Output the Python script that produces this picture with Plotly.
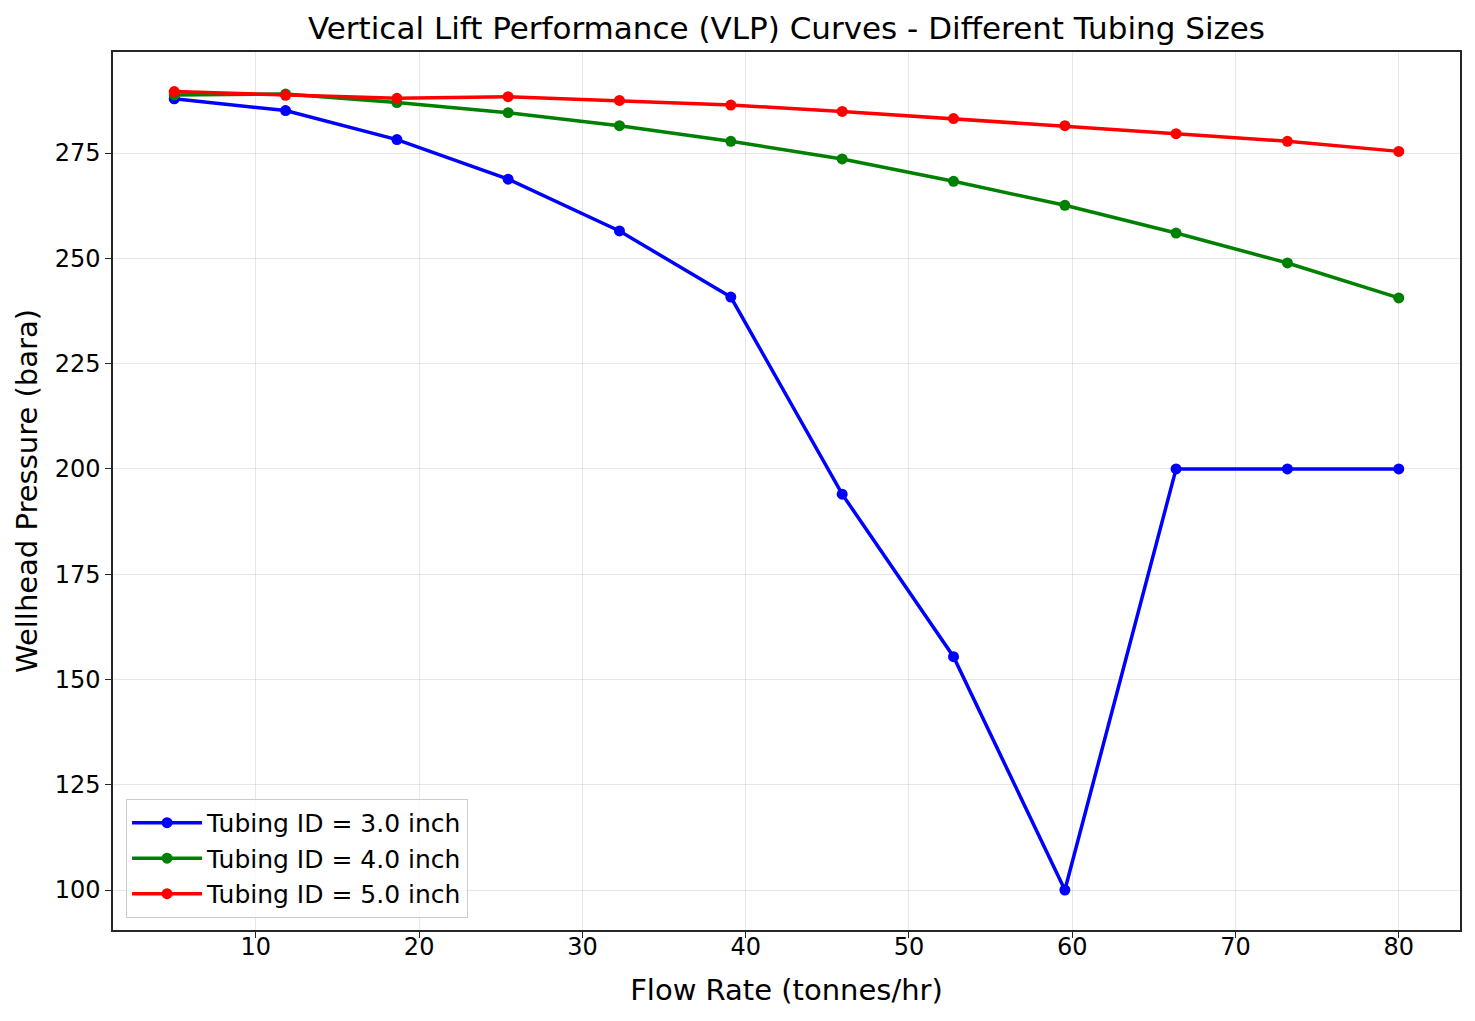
import plotly.graph_objects as go

flow_rate = [5.0, 11.82, 18.64, 25.45, 32.27, 39.09, 45.91, 52.73, 59.55, 66.36, 73.18, 80.0]
p_3in = [287.9, 285.1, 278.2, 268.8, 256.5, 240.8, 194.0, 155.4, 100.0, 200.0, 200.0, 200.0]
p_4in = [288.8, 289.0, 287.0, 284.6, 281.5, 277.8, 273.6, 268.3, 262.6, 256.0, 248.9, 240.6]
p_5in = [289.6, 288.7, 288.0, 288.4, 287.5, 286.4, 284.9, 283.2, 281.5, 279.6, 277.8, 275.4]
series_names = ["Tubing ID = 3.0 inch", "Tubing ID = 4.0 inch", "Tubing ID = 5.0 inch"]
colors = ["#0000ff", "#008000", "#ff0000"]

fig = go.Figure()
for name, ys, c in zip(series_names, [p_3in, p_4in, p_5in], colors):
    fig.add_trace(go.Scatter(x=flow_rate, y=ys, mode="lines+markers", name=name,
                             line=dict(color=c, width=3.5),
                             marker=dict(color=c, size=11)))

font = "DejaVu Sans, sans-serif"
axis_common = dict(showline=True, linecolor="#262626", linewidth=1.5, mirror=True,
                   ticks="outside", ticklen=6, tickwidth=1.2, tickcolor="#262626",
                   showgrid=True, gridcolor="rgba(176,176,176,0.3)", gridwidth=1,
                   zeroline=False, tickfont=dict(size=24, color="black", family=font))

fig.update_layout(
    width=1475, height=1021,
    margin=dict(l=113, r=15, t=52, b=91),
    paper_bgcolor="white", plot_bgcolor="white",
    font=dict(family=font, color="black"),
    title=dict(text="Vertical Lift Performance (VLP) Curves - Different Tubing Sizes",
               x=0.5, xref="paper", xanchor="center", y=0.972, yref="container",
               yanchor="middle", font=dict(size=31, family=font, color="black")),
    xaxis=dict(range=[1.25, 83.75], tickvals=[10, 20, 30, 40, 50, 60, 70, 80],
               ticklabelstandoff=-12,
               title=dict(text="Flow Rate (tonnes/hr)", font=dict(size=29, family=font), standoff=20),
               **axis_common),
    yaxis=dict(range=[90.5, 299.0], tickvals=[100, 125, 150, 175, 200, 225, 250, 275],
               title=dict(text="Wellhead Pressure (bara)", font=dict(size=29, family=font), standoff=8),
               **axis_common),
    legend=dict(x=0.0097, y=0.0137, xanchor="left", yanchor="bottom",
                bgcolor="rgba(255,255,255,0.8)", bordercolor="#cccccc", borderwidth=1,
                font=dict(size=25, family=font, color="black"), itemwidth=70,
                tracegroupgap=2),
    showlegend=True,
)

fig.write_html("out.html")
